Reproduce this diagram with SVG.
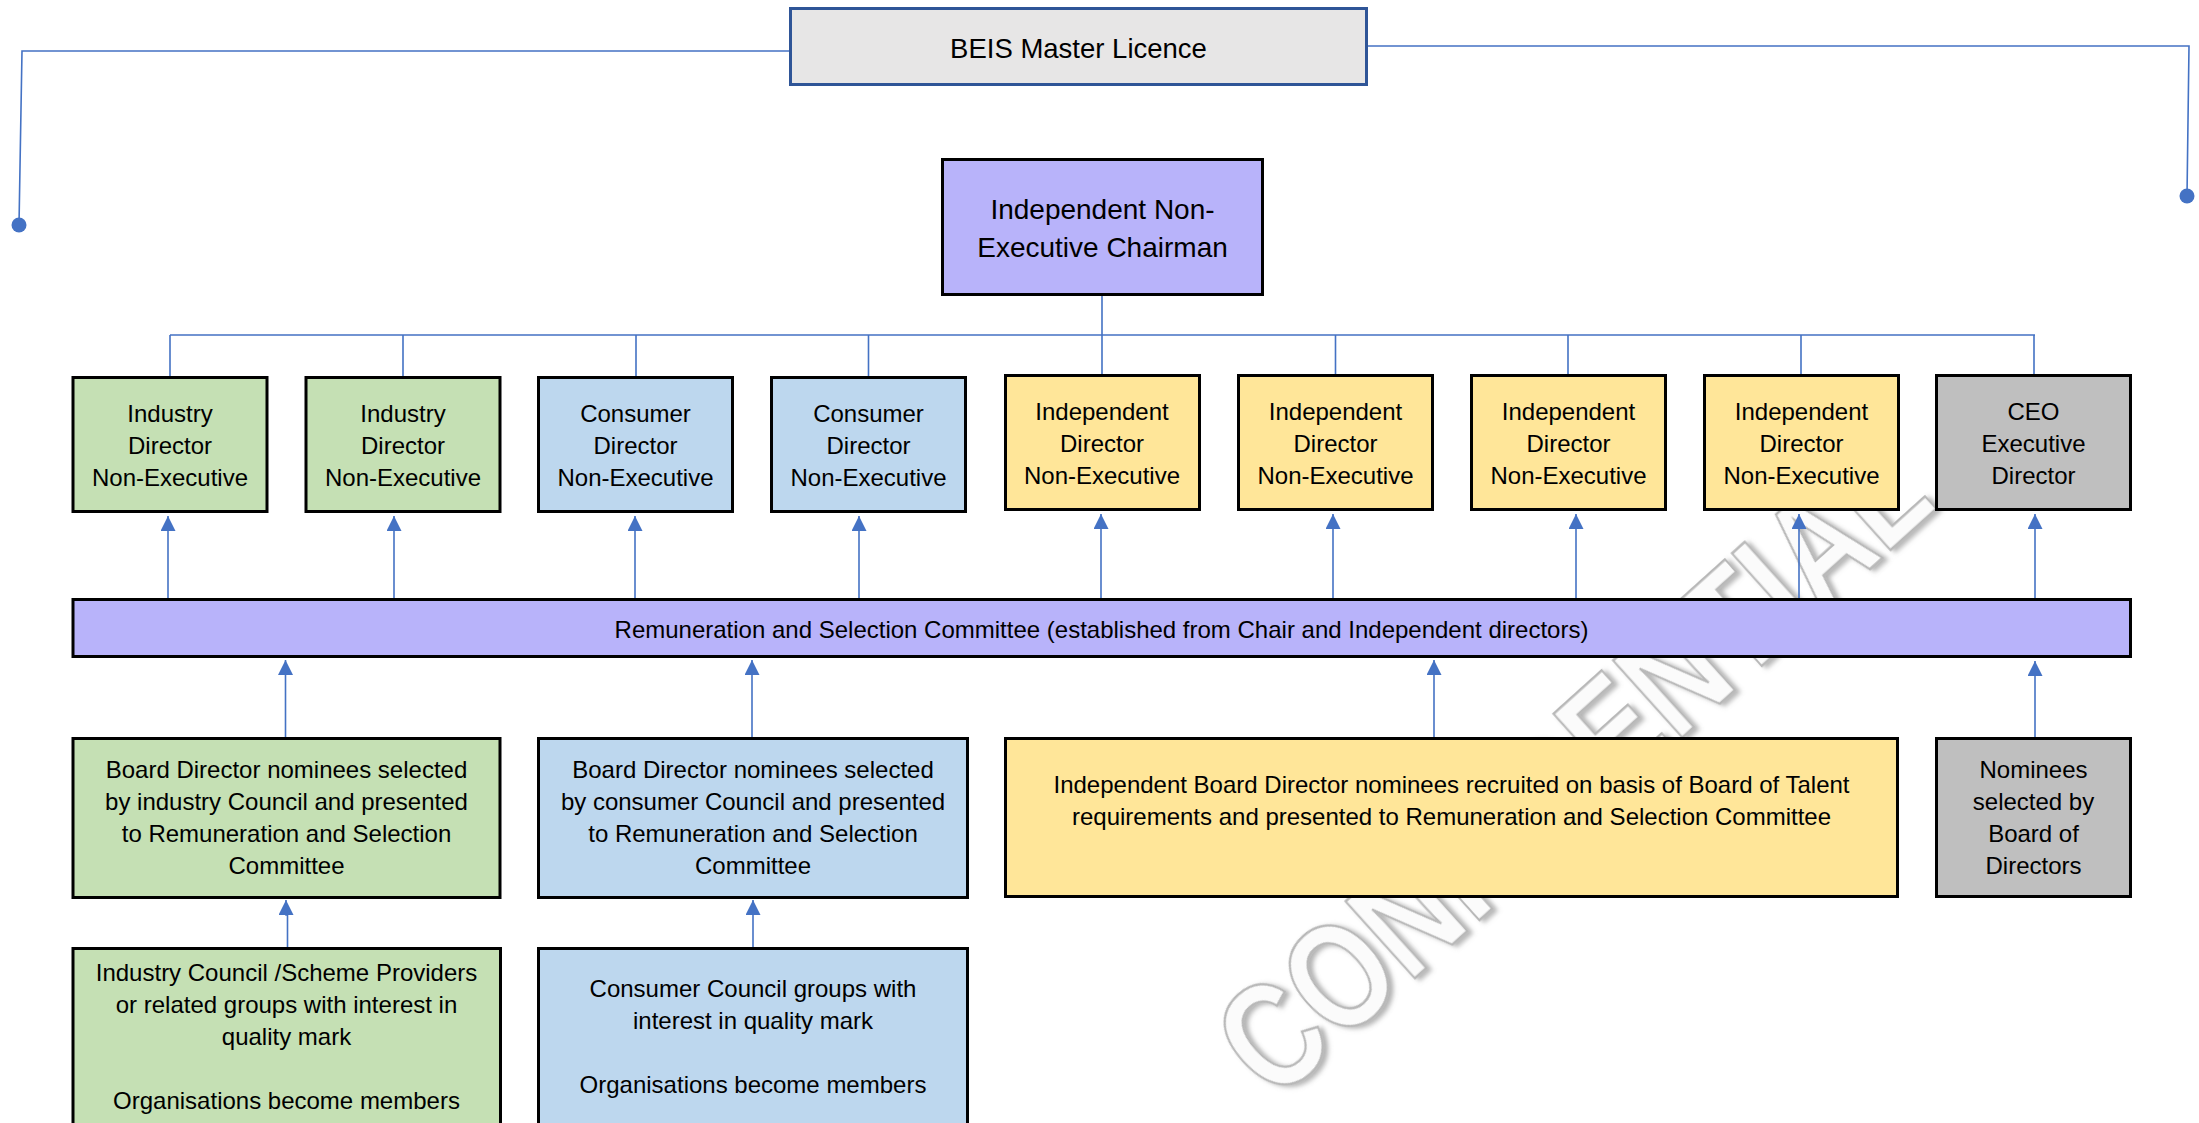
<svg xmlns="http://www.w3.org/2000/svg" width="2199" height="1123" viewBox="0 0 2199 1123">
<style>
  .box{stroke:#000;stroke-width:3}
  .g{fill:#C5E0B4}
  .b{fill:#BDD7EE}
  .y{fill:#FFE699}
  .gr{fill:#BFBFBF}
  .p{fill:#B8B3FA}
  text{font-family:"Liberation Sans",Arial,sans-serif;fill:#000;text-anchor:middle;font-size:24px}
  .big{font-size:28px}
  .conn{fill:none;stroke:#4472C4;stroke-width:1.6}
  .arr{fill:none;stroke:#4472C4;stroke-width:1.6;marker-end:url(#ah)}
  .dot{fill:#4472C4}
  .wm{font-size:150px;font-weight:bold;fill:#fbfbfb;stroke:#b8b8b8;stroke-width:2.5}
</style>
<defs>
  <marker id="ah" markerUnits="userSpaceOnUse" markerWidth="15" markerHeight="15" refX="15" refY="7.5" orient="auto" viewBox="0 0 15 15">
    <path d="M0,0 L15,7.5 L0,15 z" fill="#4472C4"/>
  </marker>
  <filter id="sh" x="-10%" y="-20%" width="120%" height="140%">
    <feDropShadow dx="3" dy="4" stdDeviation="2.5" flood-color="#666" flood-opacity="0.5"/>
  </filter>
</defs>
<rect width="2199" height="1123" fill="#fff"/>

<g id="watermark" transform="translate(1571,765) rotate(-42) scale(0.8,1)">
  <text class="wm" x="0" y="54" filter="url(#sh)">CONFIDENTIAL</text>
</g>

<g id="connectors">
  <path class="conn" d="M789 51 H22 L19 225"/>
  <circle class="dot" cx="19" cy="225" r="7.5"/>
  <path class="conn" d="M1368 46 H2189 L2187 196"/>
  <circle class="dot" cx="2187" cy="196" r="7.5"/>
  <path class="conn" d="M1102 296 V335 M170 335 H2035 M170 335 V376 M403 335 V376 M636 335 V376 M868.5 335 V376 M1102 335 V374 M1335.5 335 V374 M1568 335 V374 M1801 335 V374 M2034 335 V374"/>
  <path class="arr" d="M168 598 V516"/>
  <path class="arr" d="M394 598 V516"/>
  <path class="arr" d="M635 598 V516"/>
  <path class="arr" d="M859 598 V516"/>
  <path class="arr" d="M1101 598 V514"/>
  <path class="arr" d="M1333 598 V514"/>
  <path class="arr" d="M1576 598 V514"/>
  <path class="arr" d="M1799 598 V514"/>
  <path class="arr" d="M2035 598 V514"/>
  <path class="arr" d="M285.5 737 V660"/>
  <path class="arr" d="M752 737 V660"/>
  <path class="arr" d="M1434 737 V660"/>
  <path class="arr" d="M2035 737 V661"/>
  <path class="arr" d="M287.5 947 V915 H286 V900"/>
  <path class="arr" d="M753 947 V900"/>
</g>

<g id="beis">
  <rect x="790.5" y="8.5" width="576" height="76" fill="#E7E6E6" stroke="#2F5597" stroke-width="3"/>
  <text x="1078.5" y="58" style="font-size:27.5px">BEIS Master Licence</text>
</g>

<g id="chairman">
  <rect class="box p" x="942.5" y="159.5" width="320" height="135"/>
  <text class="big" x="1102.5" y="219">Independent Non-</text>
  <text class="big" x="1102.5" y="257">Executive Chairman</text>
</g>

<g id="dir1">
  <rect class="box g" x="73" y="377.5" width="194" height="134"/>
  <text x="170" y="422">Industry</text><text x="170" y="454">Director</text><text x="170" y="486">Non-Executive</text>
</g>
<g id="dir2">
  <rect class="box g" x="306" y="377.5" width="194" height="134"/>
  <text x="403" y="422">Industry</text><text x="403" y="454">Director</text><text x="403" y="486">Non-Executive</text>
</g>
<g id="dir3">
  <rect class="box b" x="538.5" y="377.5" width="194" height="134"/>
  <text x="635.5" y="422">Consumer</text><text x="635.5" y="454">Director</text><text x="635.5" y="486">Non-Executive</text>
</g>
<g id="dir4">
  <rect class="box b" x="771.5" y="377.5" width="194" height="134"/>
  <text x="868.5" y="422">Consumer</text><text x="868.5" y="454">Director</text><text x="868.5" y="486">Non-Executive</text>
</g>
<g id="dir5">
  <rect class="box y" x="1005.5" y="375.5" width="194" height="134"/>
  <text x="1102" y="419.5">Independent</text><text x="1102" y="451.5">Director</text><text x="1102" y="483.5">Non-Executive</text>
</g>
<g id="dir6">
  <rect class="box y" x="1238.5" y="375.5" width="194" height="134"/>
  <text x="1335.5" y="419.5">Independent</text><text x="1335.5" y="451.5">Director</text><text x="1335.5" y="483.5">Non-Executive</text>
</g>
<g id="dir7">
  <rect class="box y" x="1471.5" y="375.5" width="194" height="134"/>
  <text x="1568.5" y="419.5">Independent</text><text x="1568.5" y="451.5">Director</text><text x="1568.5" y="483.5">Non-Executive</text>
</g>
<g id="dir8">
  <rect class="box y" x="1704.5" y="375.5" width="194" height="134"/>
  <text x="1801.5" y="419.5">Independent</text><text x="1801.5" y="451.5">Director</text><text x="1801.5" y="483.5">Non-Executive</text>
</g>
<g id="ceo">
  <rect class="box gr" x="1936.5" y="375.5" width="194" height="134"/>
  <text x="2033.5" y="419.5">CEO</text><text x="2033.5" y="451.5">Executive</text><text x="2033.5" y="483.5">Director</text>
</g>

<g id="committee">
  <rect class="box p" x="73" y="599.5" width="2057.5" height="57"/>
  <text x="1101.5" y="638">Remuneration and Selection Committee (established from Chair and Independent directors)</text>
</g>

<g id="nom-industry">
  <rect class="box g" x="73" y="738.5" width="427" height="159"/>
  <text x="286.5" y="778">Board Director nominees selected</text>
  <text x="286.5" y="810">by industry Council and presented</text>
  <text x="286.5" y="842">to Remuneration and Selection</text>
  <text x="286.5" y="874">Committee</text>
</g>
<g id="nom-consumer">
  <rect class="box b" x="538.5" y="738.5" width="429" height="159"/>
  <text x="753" y="778">Board Director nominees selected</text>
  <text x="753" y="810">by consumer Council and presented</text>
  <text x="753" y="842">to Remuneration and Selection</text>
  <text x="753" y="874">Committee</text>
</g>
<g id="nom-independent">
  <rect class="box y" x="1005.5" y="738.5" width="892" height="158"/>
  <text x="1451.5" y="793">Independent Board Director nominees recruited on basis of Board of Talent</text>
  <text x="1451.5" y="825">requirements and presented to Remuneration and Selection Committee</text>
</g>
<g id="nom-board">
  <rect class="box gr" x="1936.5" y="738.5" width="194" height="158"/>
  <text x="2033.5" y="778">Nominees</text>
  <text x="2033.5" y="810">selected by</text>
  <text x="2033.5" y="842">Board of</text>
  <text x="2033.5" y="874">Directors</text>
</g>

<g id="industry-council">
  <rect class="box g" x="73" y="948.5" width="427.5" height="200"/>
  <text x="286.5" y="981">Industry Council /Scheme Providers</text>
  <text x="286.5" y="1013">or related groups with interest in</text>
  <text x="286.5" y="1045">quality mark</text>
  <text x="286.5" y="1109">Organisations become members</text>
</g>
<g id="consumer-council">
  <rect class="box b" x="538.5" y="948.5" width="429" height="200"/>
  <text x="753" y="997">Consumer Council groups with</text>
  <text x="753" y="1029">interest in quality mark</text>
  <text x="753" y="1093">Organisations become members</text>
</g>
</svg>
